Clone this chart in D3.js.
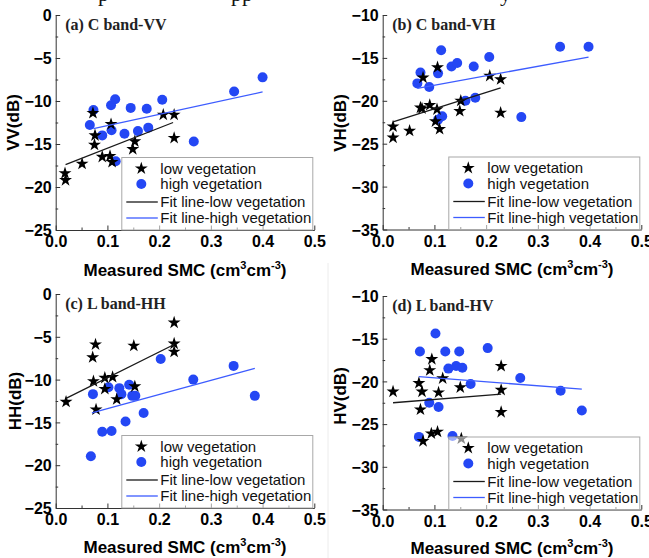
<!DOCTYPE html>
<html><head><meta charset="utf-8">
<script src="https://cdn.jsdelivr.net/npm/d3@7"></script>
<style>body{margin:0;background:#fff}svg{display:block}</style>
</head><body>
<svg id="c" width="649" height="558"></svg>
<script>
// ---------- data ----------
const xTicks = [0, 0.1, 0.2, 0.3, 0.4, 0.5];
const yTicksCo = [0, -5, -10, -15, -20, -25];
const yTicksCross = [-10, -15, -20, -25, -30, -35];
const legendLabels = ["low vegetation", "high vegetation", "Fit line-low vegetation", "Fit line-high vegetation"];
const panelTitles = ["(a) C band-VV", "(b) C band-VH", "(c) L band-HH", "(d) L band-HV"];
const yLabels = ["VV(dB)", "VH(dB)", "HH(dB)", "HV(dB)"];

// (a) C band VV
const smcLowVV  = [0.018,0.019,0.051,0.072,0.076,0.075,0.090,0.105,0.107,0.109,0.149,0.153,0.208,0.229,0.229];
const vvLow     = [-18.4,-19.2,-17.3,-11.4,-14.0,-15.1,-16.5,-16.4,-12.7,-17.1,-15.6,-14.7,-11.6,-11.6,-14.3];
const smcHighVV = [0.066,0.073,0.090,0.107,0.115,0.108,0.116,0.133,0.145,0.159,0.176,0.179,0.206,0.267,0.345,0.400];
const vvHigh    = [-12.8,-11.05,-14.0,-10.5,-9.8,-13.4,-17.0,-13.8,-10.8,-13.5,-10.9,-13.1,-9.85,-14.7,-8.9,-7.25];
const fitLowVV  = [[0.019,-17.4],[0.227,-12.5]];
const fitHighVV = [[0.073,-13.2],[0.400,-8.95]];

// (b) C band VH
const smcLowVH  = [0.020,0.020,0.052,0.078,0.073,0.076,0.091,0.106,0.105,0.102,0.110,0.151,0.149,0.207,0.228,0.228];
const vhLow     = [-23.0,-24.3,-23.5,-17.3,-20.8,-20.9,-20.5,-16.1,-21.0,-22.4,-23.3,-20.0,-21.2,-17.1,-17.5,-21.4];
const smcHighVH = [0.067,0.073,0.090,0.107,0.113,0.107,0.115,0.133,0.144,0.160,0.176,0.179,0.206,0.268,0.343,0.398];
const vhHigh    = [-17.97,-16.7,-18.4,-16.8,-14.1,-22.2,-21.8,-16.0,-15.6,-20.0,-16.0,-19.65,-14.9,-21.9,-13.7,-13.7];
const fitLowVH  = [[0.020,-22.45],[0.228,-18.5]];
const fitHighVH = [[0.067,-18.55],[0.398,-14.9]];

// (c) L band HH
const smcLowHH  = [0.020,0.0715,0.077,0.073,0.078,0.095,0.095,0.110,0.118,0.151,0.153,0.229,0.229,0.229];
const hhLow     = [-12.6,-7.4,-5.9,-10.2,-13.5,-9.8,-11.1,-9.7,-12.3,-6.05,-10.8,-3.35,-5.8,-6.75];
const smcHighHH = [0.068,0.072,0.090,0.102,0.108,0.123,0.127,0.135,0.142,0.148,0.154,0.170,0.203,0.266,0.344,0.385];
const hhHigh    = [-18.95,-11.7,-16.1,-10.9,-16.0,-11.0,-11.7,-14.9,-10.6,-11.9,-11.9,-13.9,-7.6,-10.0,-8.4,-11.9];
const fitLowHH  = [[0.020,-12.2],[0.229,-5.9]];
const fitHighHH = [[0.070,-13.9],[0.385,-8.7]];

// (d) L band HV
const smcLowHV  = [0.020,0.070,0.073,0.076,0.078,0.091,0.095,0.094,0.106,0.108,0.116,0.150,0.152,0.229,0.229,0.229];
const hvLow     = [-21.2,-20.2,-23.3,-21.2,-27.0,-18.7,-17.4,-26.1,-25.9,-21.3,-19.65,-20.7,-26.7,-18.2,-21.0,-23.6];
const smcHighHV = [0.070,0.072,0.090,0.102,0.108,0.121,0.127,0.135,0.142,0.148,0.154,0.170,0.203,0.266,0.344,0.385];
const hvHigh    = [-26.5,-16.5,-22.5,-14.4,-23.0,-16.5,-18.5,-26.4,-18.2,-16.5,-18.4,-20.3,-16.1,-19.6,-21.1,-23.4];
const fitLowHV  = [[0.020,-22.5],[0.229,-21.5]];
const fitHighHV = [[0.070,-19.45],[0.385,-20.9]];

// ---------- layout / style ----------
const BLUE = "#2447f4", BLUE_LINE = "#3d5cff";
const panels = [
  {left:55.7, top:15, bottom:230, yDomain:[-25,0], ticks:yTicksCo, lowX:smcLowVV, lowY:vvLow, highX:smcHighVV, highY:vvHigh, fitL:fitLowVV, fitH:fitHighVV, ylabX:19, ylabY:122.5, xlabY:276},
  {left:382.7, top:15, bottom:229.5, yDomain:[-35,-10], ticks:yTicksCross, lowX:smcLowVH, lowY:vhLow, highX:smcHighVH, highY:vhHigh, fitL:fitLowVH, fitH:fitHighVH, ylabX:346, ylabY:123, xlabY:275},
  {left:55.7, top:294, bottom:508, yDomain:[-25,0], ticks:yTicksCo, lowX:smcLowHH, lowY:hhLow, highX:smcHighHH, highY:hhHigh, fitL:fitLowHH, fitH:fitHighHH, ylabX:21, ylabY:401, xlabY:553},
  {left:382.7, top:296, bottom:509.5, yDomain:[-35,-10], ticks:yTicksCross, lowX:smcLowHV, lowY:hvLow, highX:smcHighHV, highY:hvHigh, fitL:fitLowHV, fitH:fitHighHV, ylabX:346, ylabY:396, xlabY:554}
];
const W = 258.6;

const svg = d3.select("#c");

// cropped descenders of the caption line above the figure
svg.append("g").attr("font-family","Liberation Serif").attr("font-size",22).attr("fill","#111")
  .selectAll("text").data([["p",98],["pp",231],["y",500]]).join("text")
  .attr("x",d=>d[1]).attr("y",1).text(d=>d[0]);

// faint sub-image border
svg.append("line").attr("x1",328).attr("x2",328).attr("y1",263).attr("y2",558).attr("stroke","#ececec");

const star = d3.symbol(d3.symbolStar, 52);

panels.forEach((p, i) => {
  const x = d3.scaleLinear().domain([0,0.5]).range([p.left, p.left + W]);
  const y = d3.scaleLinear().domain(p.yDomain).range([p.bottom, p.top]);
  const g = svg.append("g");

  // minor ticks
  const minorX = d3.range(0.05, 0.5, 0.1);
  const minorY = d3.range(p.yDomain[0] + 2.5, p.yDomain[1], 5);
  g.append("g").attr("transform",`translate(0,${p.bottom})`)
    .call(d3.axisBottom(x).tickValues(minorX).tickSize(-2.5).tickFormat(""))
    .call(a=>a.select(".domain").remove());
  g.append("g").attr("transform",`translate(${p.left},0)`)
    .call(d3.axisLeft(y).tickValues(minorY).tickSize(-2.5).tickFormat(""))
    .call(a=>a.select(".domain").remove());

  // major axes
  const ax = g.append("g").attr("transform",`translate(0,${p.bottom})`)
    .call(d3.axisBottom(x).tickValues(xTicks).tickSize(-4.5).tickSizeOuter(0).tickPadding(5).tickFormat(d3.format(".1f")));
  const ay = g.append("g").attr("transform",`translate(${p.left},0)`)
    .call(d3.axisLeft(y).tickValues(p.ticks).tickSize(-4.5).tickSizeOuter(0).tickPadding(4).tickFormat(d3.format("d")));
  [ax, ay].forEach(a => {
    a.selectAll("text").attr("font-family","Liberation Sans").attr("font-weight","bold").attr("font-size",16).attr("fill","#000");
  });
  ax.selectAll("text").attr("dy",null).attr("y",17);
  ay.selectAll("text").attr("dy","0.36em");
  g.selectAll(".domain, .tick line").attr("stroke","#333");

  // markers
  const high = p.highX.map((v,k)=>[v,p.highY[k]]);
  const low = p.lowX.map((v,k)=>[v,p.lowY[k]]);
  g.append("g").selectAll("circle").data(high).join("circle")
    .attr("cx",d=>x(d[0])).attr("cy",d=>y(d[1])).attr("r",5).attr("fill",BLUE);
  g.append("g").selectAll("path").data(low).join("path")
    .attr("d",star).attr("transform",d=>`translate(${x(d[0])},${y(d[1])})`).attr("fill","#000");

  // fit lines
  const line = d3.line().x(d=>x(d[0])).y(d=>y(d[1]));
  g.append("path").attr("d",line(p.fitL)).attr("stroke","#1a1a1a").attr("stroke-width",1.3).attr("fill","none");
  g.append("path").attr("d",line(p.fitH)).attr("stroke",BLUE_LINE).attr("stroke-width",1.3).attr("fill","none");

  // title
  g.append("text").attr("x",p.left+9.5).attr("y",p.top+14.5)
    .attr("font-family","Liberation Serif").attr("font-weight","bold").attr("font-size",16).attr("fill","#222")
    .text(panelTitles[i]);

  // axis labels
  g.append("text").attr("transform",`translate(${p.ylabX},${p.ylabY}) rotate(-90)`).attr("text-anchor","middle")
    .attr("font-family","Liberation Sans").attr("font-weight","bold").attr("font-size",17).text(yLabels[i]);
  const xl = g.append("text").attr("x",p.left + W/2).attr("y",p.xlabY).attr("text-anchor","middle")
    .attr("font-family","Liberation Sans").attr("font-weight","bold").attr("font-size",17);
  xl.append("tspan").text("Measured SMC (cm");
  xl.append("tspan").attr("font-size",11).attr("dy",-7).text("3");
  xl.append("tspan").attr("dy",7).text("cm");
  xl.append("tspan").attr("font-size",11).attr("dy",-7).text("-3");
  xl.append("tspan").attr("dy",7).text(")");

  // legend
  const lw = 191, lh = 72.5;
  const lx = p.left + W - lw - 1.5, ly = p.bottom - lh;
  const lg = g.append("g").attr("transform",`translate(${lx},${ly})`);
  lg.append("rect").attr("width",lw).attr("height",lh).attr("fill","#fff").attr("fill-opacity",0.55)
    .attr("stroke","#a8a8a8").attr("stroke-width",1);
  const rows = [11, 26.5, 44.5, 60.5];
  lg.append("path").attr("d",star).attr("transform",`translate(19.5,${rows[0]})`).attr("fill","#000");
  lg.append("circle").attr("cx",19.5).attr("cy",rows[1]).attr("r",5).attr("fill",BLUE);
  lg.append("line").attr("x1",4.5).attr("x2",36).attr("y1",rows[2]).attr("y2",rows[2]).attr("stroke","#1a1a1a").attr("stroke-width",1.3);
  lg.append("line").attr("x1",4.5).attr("x2",36).attr("y1",rows[3]).attr("y2",rows[3]).attr("stroke",BLUE_LINE).attr("stroke-width",1.3);
  lg.selectAll("text.lab").data(legendLabels).join("text").attr("class","lab")
    .attr("x",38.5).attr("y",(d,k)=>rows[k]).attr("dy","0.36em")
    .attr("font-family","Liberation Sans").attr("font-size",15).attr("fill","#111").text(d=>d);
});
</script>
</body></html>
